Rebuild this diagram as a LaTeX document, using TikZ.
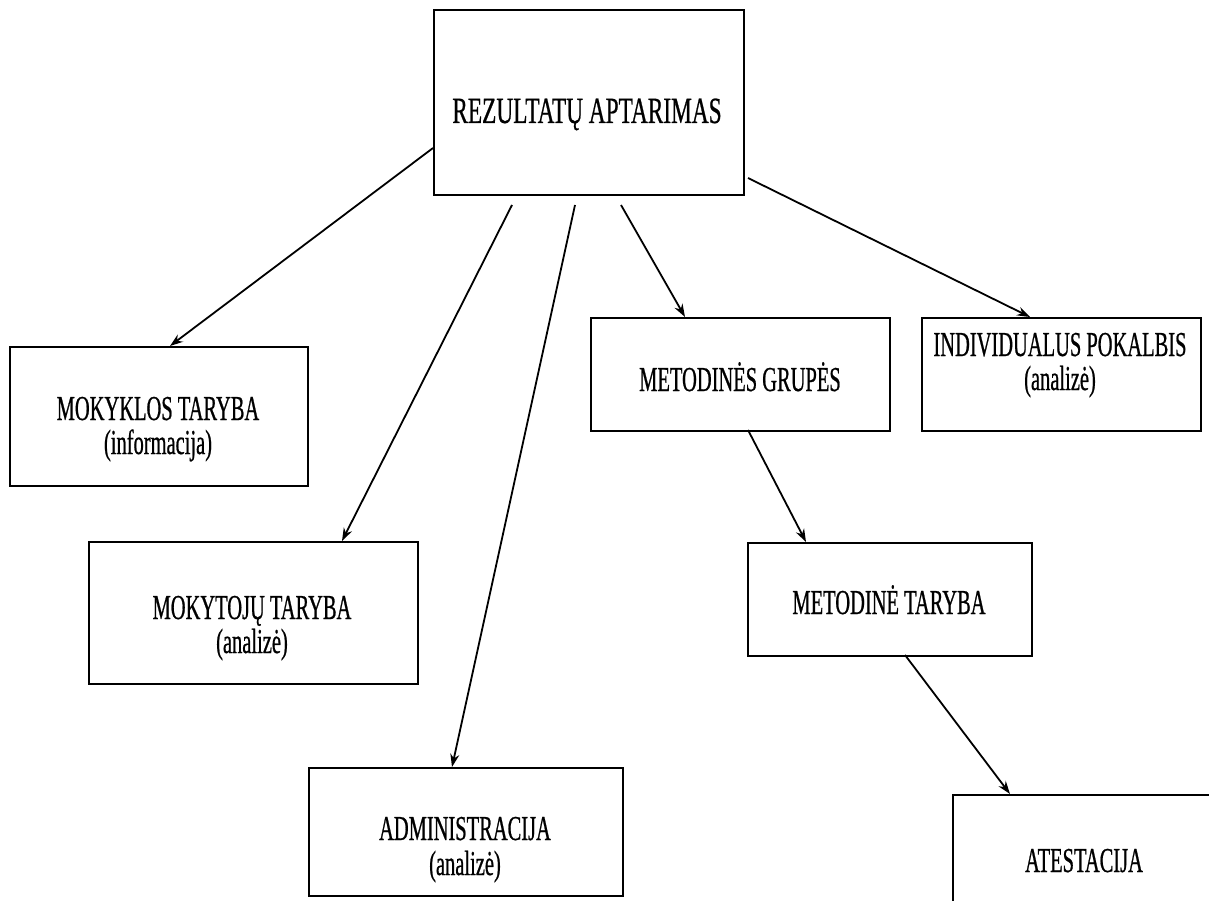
\documentclass[tikz,border=0pt]{standalone}
\usepackage{fontspec}
\setmainfont{Liberation Serif}
\newfontfamily\narrowfont[FakeStretch=0.585,FakeBold=0.6]{Liberation Serif}
\newfontfamily\titlefont[FakeStretch=0.63,FakeBold=0.6]{Liberation Serif}
\usetikzlibrary{arrows.meta}
\begin{document}
\begin{tikzpicture}[x=1pt,y=-1pt,
  box/.style={draw, line width=2pt, rectangle, inner sep=0pt, anchor=north west},
  lbl/.style={font=\narrowfont\fontsize{35}{36}\selectfont, inner sep=0pt, anchor=base},
  ttl/.style={font=\titlefont\fontsize{37}{38}\selectfont, inner sep=0pt, anchor=base},
  arr/.style={line width=1.8pt, -{Stealth[length=13pt,width=9pt]}}]
\useasboundingbox (0,0) rectangle (1209,901);
\clip (0,0) rectangle (1209,901);
% boxes
\node[box, minimum width=310pt, minimum height=185pt] (a) at (433,9) {};
\node[box, minimum width=298pt, minimum height=139pt] (b) at (9,346) {};
\node[box, minimum width=329pt, minimum height=142pt] (c) at (88,541) {};
\node[box, minimum width=314pt, minimum height=128pt] (d) at (308,767) {};
\node[box, minimum width=299pt, minimum height=113pt] (e) at (590,317) {};
\node[box, minimum width=279pt, minimum height=113pt] (f) at (921,317) {};
\node[box, minimum width=284pt, minimum height=113pt] (g) at (747,542) {};
\node[box, minimum width=280pt, minimum height=140pt] (h) at (952,794) {};
% texts
\node[ttl] (ta) at (587,123) {REZULTATŲ APTARIMAS};
\node[lbl] (tb1) at (158,420) {MOKYKLOS TARYBA};
\node[lbl] (tb2) at (158,454) {(informacija)};
\node[lbl] (tc1) at (252,619) {MOKYTOJŲ TARYBA};
\node[lbl] (tc2) at (252,653) {(analizė)};
\node[lbl] (td1) at (465,840) {ADMINISTRACIJA};
\node[lbl] (td2) at (465,875) {(analizė)};
\node[lbl] (te) at (740,391) {METODINĖS GRUPĖS};
\node[lbl] (tf1) at (1060,356) {INDIVIDUALUS POKALBIS};
\node[lbl] (tf2) at (1060,390) {(analizė)};
\node[lbl] (tg) at (889,614) {METODINĖ TARYBA};
\node[lbl] (th) at (1084,872) {ATESTACIJA};
% arrow start points
\coordinate (s1) at (433,148);
\coordinate (s2) at (512,205);
\coordinate (s3) at (575,205);
\coordinate (s4) at (621,205);
\coordinate (s5) at (748,178);
\coordinate (s6) at (748,430);
\coordinate (s7) at (905,655);
% arrows
\draw[arr] (s1) -- ([xshift=161pt]b.north west);
\draw[arr] (s2) -- ([xshift=254pt]c.north west);
\draw[arr] (s3) -- ([xshift=144pt]d.north west);
\draw[arr] (s4) -- ([xshift=95pt]e.north west);
\draw[arr] (s5) -- ([xshift=109pt]f.north west);
\draw[arr] (s6) -- ([xshift=59pt]g.north west);
\draw[arr] (s7) -- ([xshift=58pt]h.north west);
\end{tikzpicture}
\end{document}
